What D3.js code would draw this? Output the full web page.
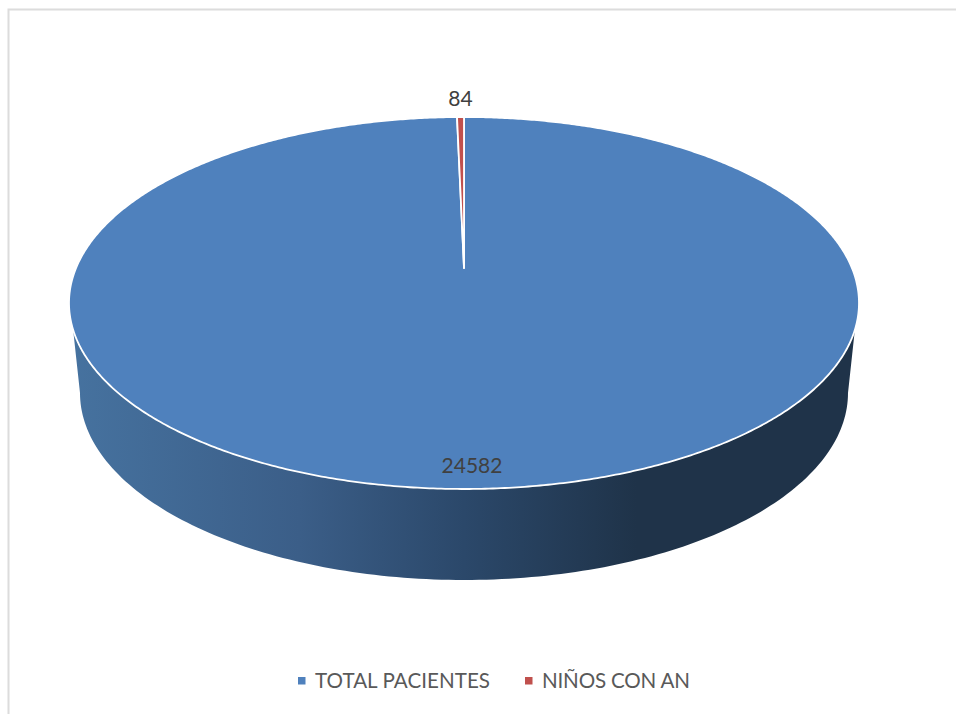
<!DOCTYPE html>
<html>
<head>
<meta charset="utf-8">
<script src="https://cdn.jsdelivr.net/npm/d3@7"></script>
<style>
html,body{margin:0;padding:0;background:#fff}
svg{display:block}
text{font-family:Lato,"Open Sans",sans-serif}
</style>
</head>
<body>
<svg id="chart" width="956" height="714"></svg>
<script>
const categories = ["TOTAL PACIENTES", "NIÑOS CON AN"];
const values = [24582, 84];
const sliceColors = ["#4F81BD", "#C0504D"];
const wallStops = [
  [0, "#46729f"], [0.29, "#3b5e88"], [0.5, "#2b486a"], [0.72, "#1f3349"], [1, "#1f3349"]
];

const svg = d3.select("#chart");

// Frame around the chart area (left and top edges stay inside the page)
svg.append("path")
  .attr("d", "M8.5,714V9.5H956")
  .attr("fill", "none").attr("stroke", "#dcdcdc").attr("stroke-width", 2);

// Tilted-disc geometry: a perspective map from the unit circle to the screen
const apex = {x: 464, y: 268};
const rimHalfWidth = 395, nearDrop = 221, farRise = 151;
const k = (farRise - nearDrop) / (nearDrop + farRise);
const a = nearDrop * (1 + k);
const c = rimHalfWidth * Math.sqrt(1 - k * k);
const project = angle => {
  // angle measured clockwise from 12 o'clock, the d3.pie convention
  const u = Math.sin(angle), v = -Math.cos(angle);
  const w = 1 + k * v;
  return [apex.x + c * u / w, apex.y + a * v / w];
};

const pie = d3.pie().value(d => d).sort(null);
const arcs = pie(values);
const line = d3.line();
const wedgePath = d => {
  const n = Math.max(2, Math.ceil((d.endAngle - d.startAngle) * 120));
  const pts = d3.range(n + 1).map(i =>
    project(d.startAngle + (d.endAngle - d.startAngle) * i / n));
  return line([[apex.x, apex.y], ...pts]) + "Z";
};

// Side wall: front of the rim joined to a slightly narrower base ellipse
const base = {cy: 393, rx: 384, ry: 187};
const baseAt = t => [apex.x + base.rx * Math.cos(t), base.cy + base.ry * Math.sin(t)];

const grad = svg.append("defs").append("linearGradient")
  .attr("id", "wall").attr("gradientUnits", "userSpaceOnUse")
  .attr("x1", 72).attr("x2", 856).attr("y1", 0).attr("y2", 0);
wallStops.forEach(s => grad.append("stop").attr("offset", s[0]).attr("stop-color", s[1]));

const rimStart = Math.PI * 1.5 - 0.33, rimEnd = Math.PI * 0.5 + 0.33;
const rimPts = d3.range(0, 161).map(i => project(rimStart + (rimEnd - rimStart) * i / 160));
const basePts = d3.range(0, 161).map(i => baseAt(Math.PI * i / 160));

svg.append("path")
  .attr("d", line([...rimPts, ...basePts]) + "Z")
  .attr("fill", "url(#wall)");

// Top face
svg.append("g").selectAll("path").data(arcs).join("path")
  .attr("d", wedgePath)
  .attr("fill", (d, i) => sliceColors[i])
  .attr("stroke", "#fff").attr("stroke-width", 1.8).attr("stroke-linejoin", "round");

// Value labels
const labelPos = [[472, 473], [460.5, 106]];
svg.append("g").selectAll("text").data(values).join("text")
  .attr("x", (d, i) => labelPos[i][0]).attr("y", (d, i) => labelPos[i][1])
  .attr("text-anchor", "middle")
  .attr("font-size", 21).attr("fill", "#404040")
  .text(d => d);

// Legend
const legendX = [298, 525];
const legendWidths = [175, 148];
const legend = svg.append("g").selectAll("g").data(categories).join("g")
  .attr("transform", (d, i) => `translate(${legendX[i]},677)`);
legend.append("rect").attr("width", 7.5).attr("height", 7.5)
  .attr("fill", (d, i) => sliceColors[i]);
legend.append("text").attr("x", 17).attr("y", 11)
  .attr("font-size", 20.6).attr("fill", "#595959")
  .attr("textLength", (d, i) => legendWidths[i])
  .text(d => d);
</script>
</body>
</html>
